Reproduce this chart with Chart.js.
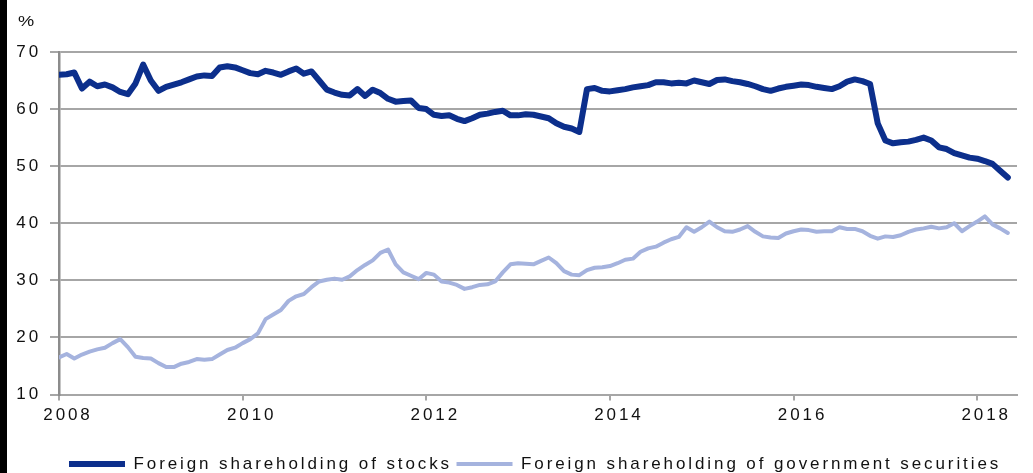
<!DOCTYPE html>
<html>
<head>
<meta charset="utf-8">
<script src="https://cdn.jsdelivr.net/npm/chart.js@4/dist/chart.umd.min.js"></script>
<style>
  html, body { margin: 0; padding: 0; background: #ffffff; }
  #wrap { position: relative; width: 1033px; height: 473px; overflow: hidden; background: #fff; }
  #c { position: absolute; left: 0; top: 0; }
  #strip { position: absolute; left: 0; top: 0; width: 7px; height: 473px; background: #000; }
  #pct { position: absolute; left: 18px; top: 13px; font-family: "Liberation Sans", Arial, sans-serif;
         font-size: 14px; color: #111; transform: scaleX(1.3); transform-origin: left top; }
</style>
</head>
<body>
<div id="wrap">
  <canvas id="c" width="1033" height="473"></canvas>
  <div id="strip"></div>
  <div id="pct">%</div>
</div>
<script>
// Monthly observations, January 2008 to May 2018
const startYear = 2008;
const seriesNames = ['Foreign shareholding of stocks', 'Foreign shareholding of government securities'];
const stocks = [
  66.0, 66.1, 66.4, 63.6, 64.8, 64.0, 64.3, 63.8, 63.0, 62.6, 64.5, 67.8,
  65.0, 63.2, 63.9, 64.3, 64.7, 65.2, 65.7, 65.9, 65.8, 67.3, 67.5, 67.3,
  66.8, 66.3, 66.1, 66.7, 66.4, 66.0, 66.6, 67.1, 66.2, 66.6, 65.0, 63.4,
  62.9, 62.5, 62.4, 63.5, 62.3, 63.4, 62.8, 61.8, 61.3, 61.4, 61.5, 60.2,
  60.0, 59.0, 58.8, 58.9, 58.3, 57.9, 58.4, 59.0, 59.2, 59.5, 59.7, 58.9,
  58.9, 59.1, 59.0, 58.7, 58.4, 57.5, 56.9, 56.6, 56.0, 63.5, 63.7, 63.2,
  63.1, 63.3, 63.5, 63.8, 64.0, 64.2, 64.7, 64.7, 64.5, 64.6, 64.5, 65.0,
  64.7, 64.4, 65.1, 65.2, 64.9, 64.7, 64.4, 64.0, 63.5, 63.2, 63.6, 63.9,
  64.1, 64.3, 64.2, 63.9, 63.7, 63.5, 64.0, 64.8, 65.2, 64.9, 64.4, 57.5,
  54.5, 54.0, 54.2, 54.3, 54.6, 55.0, 54.5, 53.3, 53.0, 52.3, 51.9, 51.5,
  51.3, 50.9, 50.4, 49.2, 48.0
];
const govSecurities = [
  16.5, 17.1, 16.3, 17.0, 17.5, 17.9, 18.2, 19.0, 19.7, 18.3, 16.6, 16.4,
  16.3, 15.5, 14.8, 14.8, 15.4, 15.7, 16.2, 16.1, 16.2, 17.0, 17.8, 18.2,
  19.0, 19.7, 20.7, 23.2, 24.0, 24.8, 26.4, 27.2, 27.6, 28.8, 29.8, 30.1,
  30.3, 30.1, 30.7, 31.8, 32.7, 33.5, 34.8, 35.4, 32.8, 31.4, 30.8, 30.2,
  31.3, 31.0, 29.8, 29.6, 29.2, 28.5, 28.8, 29.2, 29.3, 29.8, 31.4, 32.8,
  33.0, 32.9, 32.8, 33.4, 34.0, 33.0, 31.6, 31.0, 30.9, 31.8, 32.2, 32.3,
  32.5, 33.0, 33.6, 33.8, 35.0, 35.6, 35.9, 36.6, 37.2, 37.6, 39.3, 38.5,
  39.3, 40.3, 39.3, 38.6, 38.5, 38.9, 39.5, 38.5, 37.7, 37.5, 37.4, 38.2,
  38.6, 38.9, 38.8, 38.5, 38.6, 38.6, 39.3, 39.0, 39.0, 38.6, 37.8, 37.3,
  37.7, 37.6, 37.9, 38.5, 38.9, 39.1, 39.4, 39.1, 39.3, 40.0, 38.6, 39.5,
  40.3, 41.2, 39.8, 39.1, 38.3
];
const yearLabels = ['2008', '2010', '2012', '2014', '2016', '2018'];
const yTicks = [10, 20, 30, 40, 50, 60, 70];

const toPoints = arr => arr.map((v, i) => ({ x: i, y: v }));
const yearPos = yearLabels.map(y => (parseInt(y, 10) - startYear) * 12);

const FONT = { family: '"Liberation Sans", Arial, sans-serif', size: 17 };
const SPACING = '2.9px';
const GRID = '#a6a6a6';
const TEXT = '#111111';
const LEGEND_PAD = 4.5;

const stylePlugin = {
  id: 'stylePlugin',
  beforeLayout(chart) { chart.ctx.letterSpacing = SPACING; },
  afterLayout(chart) {
    const lg = chart.legend;
    lg.left = 69 - LEGEND_PAD;
    lg.right = 1200;
    lg.top = 451;
    lg.bottom = 486;
  },
  beforeDraw(chart) { chart.ctx.letterSpacing = SPACING; }
};

new Chart(document.getElementById('c'), {
  type: 'line',
  data: {
    datasets: [
      {
        label: seriesNames[0],
        data: toPoints(stocks),
        borderColor: '#0c2f8c',
        backgroundColor: '#0c2f8c',
        borderWidth: 6,
        borderCapStyle: 'round',
        borderJoinStyle: 'round',
        pointRadius: 0,
        tension: 0,
        fill: false
      },
      {
        label: seriesNames[1],
        data: toPoints(govSecurities),
        borderColor: '#a5b3de',
        backgroundColor: '#a5b3de',
        borderWidth: 4,
        borderCapStyle: 'round',
        borderJoinStyle: 'round',
        pointRadius: 0,
        tension: 0,
        fill: false
      }
    ]
  },
  options: {
    responsive: false,
    animation: false,
    devicePixelRatio: 1,
    layout: { padding: { left: 10, right: 16, top: 52, bottom: 0 } },
    plugins: {
      legend: {
        display: true,
        position: 'bottom',
        align: 'start',
        labels: {
          usePointStyle: true,
          pointStyle: 'line',
          pointStyleWidth: 56,
          boxWidth: 56,
          padding: LEGEND_PAD,
          color: TEXT,
          font: FONT
        }
      },
      tooltip: { enabled: false }
    },
    scales: {
      x: {
        type: 'linear',
        min: 0,
        max: 125.2,
        afterBuildTicks(scale) { scale.ticks = yearPos.map(v => ({ value: v })); },
        afterFit(scale) { scale.height = 47; },
        ticks: {
          callback: (v) => yearLabels[yearPos.indexOf(v)],
          autoSkip: false,
          maxRotation: 0,
          labelOffset: 9,
          padding: 5,
          color: TEXT,
          font: FONT
        },
        grid: { drawOnChartArea: false, drawTicks: true, tickLength: 6, color: GRID, lineWidth: 2 },
        border: { display: true, color: GRID, width: 2 }
      },
      y: {
        min: 10,
        max: 70,
        afterBuildTicks(scale) { scale.ticks = yTicks.map(v => ({ value: v })); },
        afterFit(scale) { scale.width = 49; },
        ticks: {
          padding: 9,
          color: TEXT,
          font: FONT
        },
        grid: { color: GRID, lineWidth: 2, tickLength: 9, drawTicks: true },
        border: { display: true, color: '#8c8c8c', width: 2.5 }
      }
    }
  },
  plugins: [stylePlugin]
});
</script>
</body>
</html>
